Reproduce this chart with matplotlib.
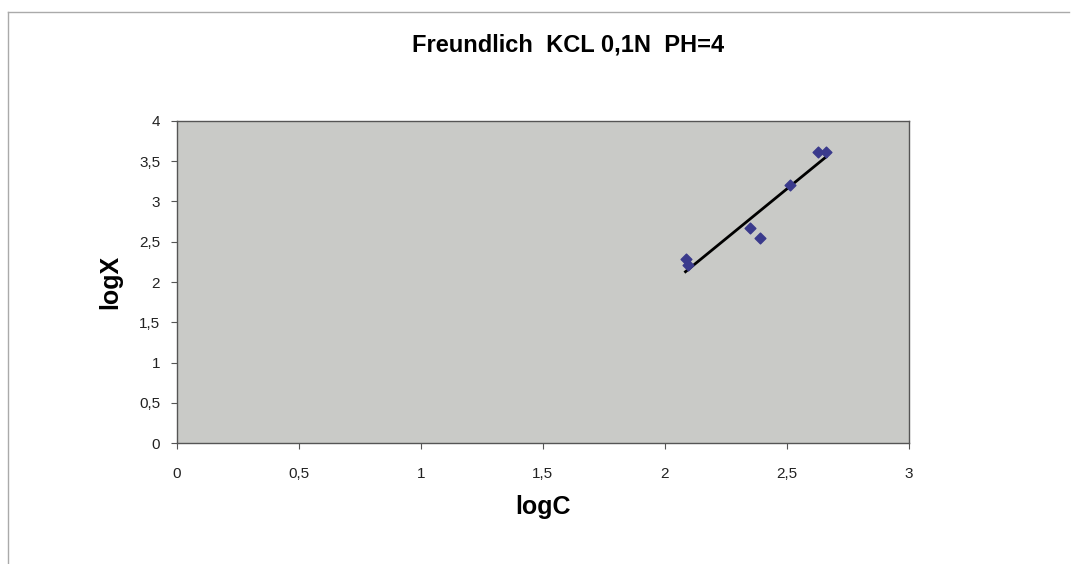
import matplotlib.pyplot as plt
import numpy as np
from matplotlib.lines import Line2D

plt.rcParams['font.family'] = ['Liberation Sans', 'DejaVu Sans']

# Freundlich data
log_c = [2.085, 2.097, 2.35, 2.39, 2.514, 2.626, 2.66]
log_x = [2.28, 2.21, 2.67, 2.55, 3.21, 3.62, 3.62]

x_ticks = [0, 0.5, 1, 1.5, 2, 2.5, 3]
y_ticks = [0, 0.5, 1, 1.5, 2, 2.5, 3, 3.5, 4]

# linear trendline
slope, intercept = np.polyfit(log_c, log_x, 1)
fit_x = np.array([min(log_c), max(log_c)])
fit_y = slope * fit_x + intercept

fig = plt.figure(figsize=(10.78, 5.64), dpi=100)
ax = fig.add_axes([0.164, 0.2145, 0.679, 0.571])
ax.set_facecolor('#c9cac7')

ax.plot(fit_x, fit_y, color='black', linewidth=2, zorder=2)
ax.scatter(log_c, log_x, marker='D', s=30, color='#3a3a8c', zorder=3)

ax.set_xlim(0, 3)
ax.set_ylim(0, 4)
ax.set_xticks(x_ticks)
ax.set_yticks(y_ticks)
fmt = lambda v: f'{v:g}'.replace('.', ',')
ax.set_xticklabels([fmt(v) for v in x_ticks])
ax.set_yticklabels([fmt(v) for v in y_ticks])
ax.tick_params(labelsize=11, length=4, color='#555555', colors='#222222')
ax.tick_params(axis='x', pad=13)
ax.tick_params(axis='y', pad=8)
for s in ax.spines.values():
    s.set_color('#555555')
    s.set_linewidth(1)

ax.set_xlabel('logC', fontsize=18, fontweight='bold', labelpad=10)
ax.set_ylabel('logX', fontsize=18, fontweight='bold', labelpad=12)
fig.text(0.527, 0.92, 'Freundlich  KCL 0,1N  PH=4', fontsize=17, fontweight='bold',
         ha='center', va='center')

# chart area border
fig.add_artist(Line2D([0.0075, 0.992], [0.979, 0.979], transform=fig.transFigure, color='#aaaaaa', lw=1))
fig.add_artist(Line2D([0.0075, 0.0075], [0.0, 0.979], transform=fig.transFigure, color='#aaaaaa', lw=1))

fig.savefig('out.png', dpi=100)
